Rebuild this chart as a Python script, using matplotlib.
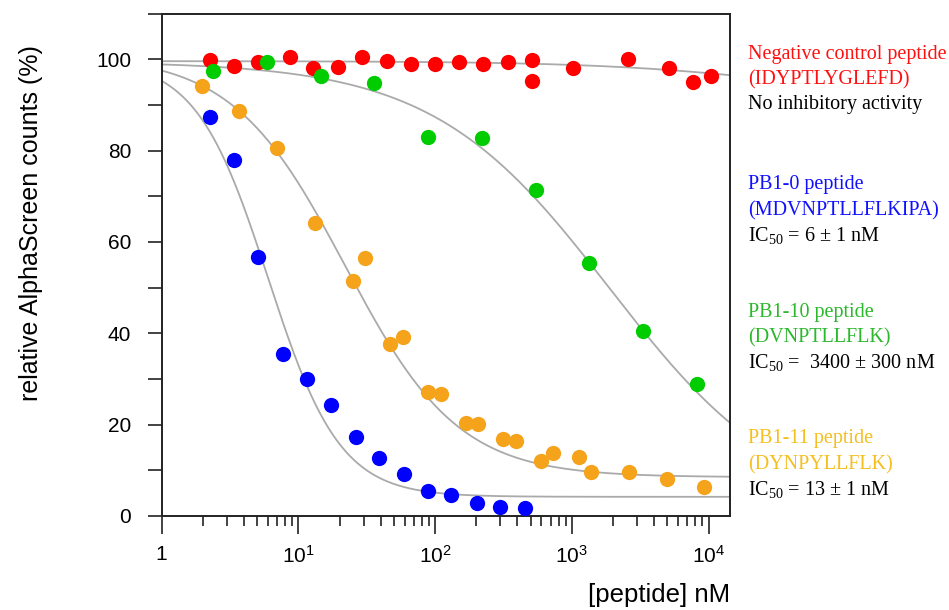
import numpy as np
import matplotlib
matplotlib.use("Agg")
import matplotlib.pyplot as plt

plt.rcParams['mathtext.fontset'] = 'custom'
plt.rcParams['mathtext.rm'] = 'Liberation Serif'
plt.rcParams['mathtext.sf'] = 'Liberation Sans'

# ---- data ----
red_x = [2.26, 3.40, 5.09, 8.68, 12.85, 19.6, 29.3, 44.2, 66.6, 99.8, 150, 225, 340, 509, 509, 1025, 2565, 5140, 7740, 10380]
red_y = [99.8, 98.6, 99.5, 100.6, 98.0, 98.2, 100.6, 99.7, 99.0, 99.0, 99.4, 98.9, 99.5, 99.8, 95.2, 98.0, 100.1, 98.0, 95.0, 96.4]

green_x = [2.39, 5.86, 14.6, 35.9, 89.2, 219, 547, 1343, 3337, 8200]
green_y = [97.5, 99.3, 96.3, 94.8, 83.0, 82.7, 71.4, 55.5, 40.5, 28.8]

blue_x = [2.26, 3.40, 5.09, 7.68, 11.5, 17.3, 26.2, 39.1, 59.2, 88.3, 130, 201, 299, 455]
blue_y = [87.4, 77.9, 56.8, 35.5, 29.9, 24.4, 17.2, 12.7, 9.2, 5.5, 4.6, 2.8, 1.9, 1.7]

orange_x = [1.96, 3.70, 7.01, 13.2, 24.9, 30.7, 46.8, 58.5, 89.2, 110, 167, 207, 315, 391, 595, 733, 1129, 1381, 2620, 4946, 9310]
orange_y = [94.2, 88.7, 80.5, 64.2, 51.5, 56.4, 37.6, 39.1, 27.2, 26.8, 20.3, 20.2, 16.8, 16.4, 12.0, 13.9, 13.0, 9.7, 9.7, 8.1, 6.4]

# fitted dose-response curve parameters: top, bottom, IC50 (nM), Hill slope
red_fit = [99.6, 90.0, 5e4, 0.6]
green_fit = [99.5, 0.0, 1900, 0.67]
blue_fit = [100.0, 4.2, 6.0, 1.65]
orange_fit = [101.0, 8.5, 22.0, 1.05]

x_ticks = [1, 10, 100, 1000, 10000]
x_ticklabels = ["1", "10^{1}", "10^{2}", "10^{3}", "10^{4}"]
y_ticks = [0, 20, 40, 60, 80, 100]

legend_blocks = [
    ("Negative control peptide", "(IDYPTLYGLEFD)", "No inhibitory activity", "#ff1010"),
    ("PB1-0 peptide", "(MDVNPTLLFLKIPA)", r"IC$_{50}$ = 6 ± 1 nM", "#1010ff"),
    ("PB1-10 peptide", "(DVNPTLLFLK)", r"IC$_{50}$ =  3400 ± 300 nM", "#2cb82c"),
    ("PB1-11 peptide", "(DYNPYLLFLK)", r"IC$_{50}$ = 13 ± 1 nM", "#f5bf1f"),
]

XMAX = 10 ** 4.157


def logistic(x, p):
    top, bottom, ic50, h = p
    return bottom + (top - bottom) / (1 + (x / ic50) ** h)


fig = plt.figure(figsize=(9.49, 6.10), dpi=100)
ax = fig.add_axes([0.1704, 0.1541, 0.7692 - 0.1704, 0.9777 - 0.1541])

xx = np.logspace(0, np.log10(XMAX), 400)
for p in (red_fit, green_fit, orange_fit, blue_fit):
    ax.plot(xx, logistic(xx, p), color="#aaaaaa", lw=1.3, zorder=2)

ms = 11
ax.plot(red_x, red_y, 'o', color="#ff0000", ms=ms, mec='none', zorder=3)
ax.plot(green_x, green_y, 'o', color="#00cc00", ms=ms, mec='none', zorder=4)
ax.plot(blue_x, blue_y, 'o', color="#0000ff", ms=ms, mec='none', zorder=4)
ax.plot(orange_x, orange_y, 'o', color="#f5a31a", ms=ms, mec='none', zorder=4)

ax.set_xscale('log')
ax.set_xlim(1, XMAX)
ax.set_ylim(0, 110)

ax.set_xticks(x_ticks)
ax.set_xticklabels([r"$\mathsf{" + t + "}$" for t in x_ticklabels])
ax.xaxis.set_minor_locator(matplotlib.ticker.LogLocator(base=10, subs=np.arange(2, 10)))
ax.xaxis.set_minor_formatter(matplotlib.ticker.NullFormatter())
ax.set_yticks(y_ticks)
ax.set_yticks(np.arange(10, 111, 20), minor=True)

for s in ax.spines.values():
    s.set_linewidth(1.4)
    s.set_color("#222222")

ax.tick_params(axis='x', which='major', direction='out', length=13, width=1.2,
               colors="#222222", labelsize=15, pad=8, labelcolor='black')
ax.tick_params(axis='x', which='minor', direction='out', length=7, width=1.2, colors="#222222")
ax.tick_params(axis='y', which='both', direction='out', length=10, width=1.2,
               colors="#222222", labelsize=15, pad=12, labelcolor='black')
for lab in ax.get_xticklabels() + ax.get_yticklabels():
    lab.set_family('Liberation Sans')

fig.text(31 / 949, 1 - 223 / 610, "relative AlphaScreen counts (%)", rotation=90,
         ha='center', va='center', fontsize=18, family='Liberation Sans')
fig.text(730 / 949, 1 - 595 / 610, "[peptide] nM", ha='right', va='center',
         fontsize=18.5, family='Liberation Sans')

block_tops = [54, 185, 312, 439]
line_gap = 25.5
for (l1, l2, l3, col), y0 in zip(legend_blocks, block_tops):
    for i, (t, c) in enumerate(((l1, col), (l2, col), (l3, 'black'))):
        fig.text(748 / 949, 1 - (y0 + i * line_gap) / 610, t, ha='left', va='center',
                 fontsize=14.5, color=c, family='Liberation Serif')

fig.savefig("out.png", dpi=100)
